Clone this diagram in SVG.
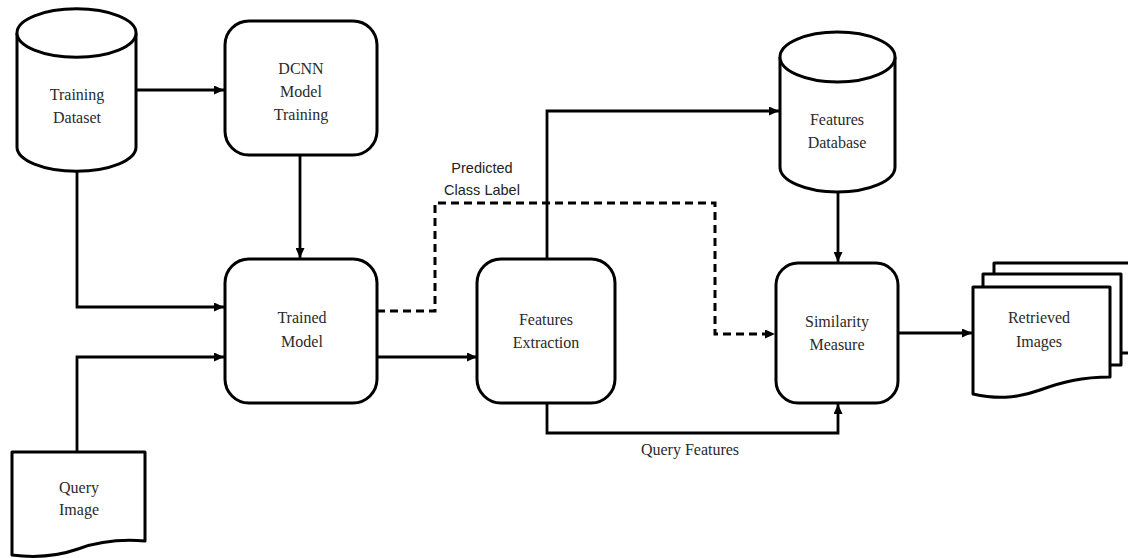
<svg xmlns="http://www.w3.org/2000/svg" width="1128" height="558" viewBox="0 0 1128 558">
<style>
.shape{fill:#fff;stroke:#000;stroke-width:3;stroke-linejoin:round}
.line{fill:none;stroke:#000;stroke-width:2.8}
.dash{fill:none;stroke:#000;stroke-width:3;stroke-dasharray:8 5}
.t{font-family:'Liberation Serif','Times New Roman','DejaVu Serif',serif;font-size:16px;fill:#2a2a2a;text-anchor:middle}
.s{font-family:'Liberation Sans',Arial,sans-serif;font-size:14.5px;fill:#222;text-anchor:middle}
</style>
<defs>
<marker id="arr" markerUnits="userSpaceOnUse" markerWidth="10" markerHeight="9" refX="10" refY="4.5" orient="auto">
<path d="M0,0 L10,4.5 L0,9 Z" fill="#000"/>
</marker>
</defs>
<g id="connectors">
<path class="line" d="M136,90 H224" marker-end="url(#arr)"/>
<path class="line" d="M77,171 V307 H224" marker-end="url(#arr)"/>
<path class="line" d="M77,452 V357 H224" marker-end="url(#arr)"/>
<path class="line" d="M300,155 V258" marker-end="url(#arr)"/>
<path class="line" d="M377,357 H477" marker-end="url(#arr)"/>
<path class="line" d="M547,258 V111 H779" marker-end="url(#arr)"/>
<path class="line" d="M838,192 V262" marker-end="url(#arr)"/>
<path class="line" d="M547,403 V433 H838 V404" marker-end="url(#arr)"/>
<path class="line" d="M898,333 H972" marker-end="url(#arr)"/>
<path class="dash" d="M377,311 H435 V203 H715 V334 H775" marker-end="url(#arr)"/>
<text class="s" x="482" y="173">Predicted</text>
<text class="s" x="482" y="195">Class Label</text>
<text class="t" x="690" y="455" font-family="Liberation Serif, serif">Query Features</text>
</g>
<g id="training-dataset" font-family="Liberation Serif, serif">
<path class="shape" d="M17,33 A59,24 0 0 1 136,33 L136,147 A59,24 0 0 1 17,147 Z"/>
<path class="shape" d="M17,33 A59,24 0 0 0 136,33" fill="none"/>
<text class="t" x="77" y="100">Training</text>
<text class="t" x="77" y="123">Dataset</text>
</g>
<g id="dcnn-training">
<rect class="shape" x="225" y="21" width="152" height="134" rx="24"/>
<text class="t" x="301" y="74">DCNN</text>
<text class="t" x="301" y="97">Model</text>
<text class="t" x="301" y="120">Training</text>
</g>
<g id="trained-model">
<rect class="shape" x="225" y="259" width="152" height="144" rx="24"/>
<text class="t" x="302" y="323">Trained</text>
<text class="t" x="302" y="347">Model</text>
</g>
<g id="query-image">
<path class="shape" d="M12,452 H145 V541 C120,539 100,541 78,549 C55,557 35,558 12,555 Z"/>
<text class="t" x="79" y="493">Query</text>
<text class="t" x="79" y="515">Image</text>
</g>
<g id="features-extraction">
<rect class="shape" x="477" y="259" width="138" height="144" rx="24"/>
<text class="t" x="546" y="325">Features</text>
<text class="t" x="546" y="348">Extraction</text>
</g>
<g id="features-database">
<path class="shape" d="M780,57 A57.5,25 0 0 1 895,57 L895,167 A57.5,25 0 0 1 780,167 Z"/>
<path class="shape" d="M780,57 A57.5,25 0 0 0 895,57" fill="none"/>
<text class="t" x="837" y="125">Features</text>
<text class="t" x="837" y="148">Database</text>
</g>
<g id="similarity-measure">
<rect class="shape" x="776" y="263" width="122" height="140" rx="22"/>
<text class="t" x="837" y="327">Similarity</text>
<text class="t" x="837" y="350">Measure</text>
</g>
<g id="retrieved-images">
<rect class="shape" x="994" y="263" width="142" height="90"/>
<rect class="shape" x="983" y="274" width="138" height="91"/>
<path class="shape" d="M973,287 H1110 V377 C1082,377 1062,382 1040,390 C1015,399 995,399 973,394 Z"/>
<text class="t" x="1039" y="323">Retrieved</text>
<text class="t" x="1039" y="347">Images</text>
</g>
</svg>
